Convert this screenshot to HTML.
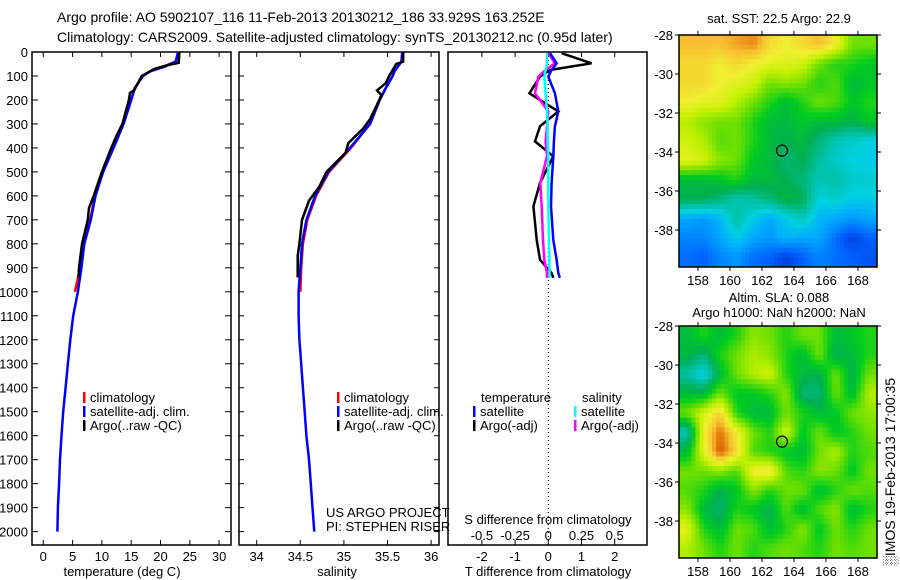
<!DOCTYPE html>
<html><head><meta charset="utf-8">
<style>
html,body{margin:0;padding:0;background:#fff;}
svg{display:block;font-family:"Liberation Sans",sans-serif;}
text{fill:#000;}
</style></head>
<body>
<svg id="fig" width="900" height="580" viewBox="0 0 900 580" xmlns="http://www.w3.org/2000/svg">
<text x="57" y="22" font-size="14">Argo profile: AO 5902107_116 11-Feb-2013 20130212_186 33.929S 163.252E</text>
<text x="57" y="42" font-size="14">Climatology: CARS2009. Satellite-adjusted climatology: synTS_20130212.nc (0.95d later)</text>
<g id="g"></g>
</svg>
<script>
// ---------- data ----------
const climDepth = [0,40,60,80,100,150,200,300,400,500,600,700,800,900,1000];
const climTemp  = [23,22.6,20.6,18.2,17,15.6,15.0,13.6,11.9,10.2,8.8,8.0,6.9,6.3,5.4];
const satDepth  = [0,40,60,80,100,150,200,300,400,500,600,700,800,900,1000,1100,1200,1300,1400,1500,1600,1700,1800,1900,2000];
const satTemp   = [23,22.6,20.8,18.3,17,15.6,15.0,13.7,12.0,10.2,8.9,8.1,7.0,6.5,5.9,5.1,4.6,4.2,3.8,3.4,3.1,2.85,2.7,2.5,2.4];
const argoDepth = [0,45,55,70,100,160,170,200,300,350,400,500,600,650,700,800,900,940];
const argoTemp  = [23.2,23.1,21.2,19,16.8,15.5,14.8,14.6,13.5,12.5,11.6,10,8.6,7.8,7.6,6.6,6.1,6.0];
const climSal   = [35.67,35.66,35.62,35.58,35.56,35.48,35.41,35.3,35.08,34.83,34.68,34.58,34.53,34.51,34.5];
const satSal    = [35.67,35.66,35.62,35.58,35.56,35.48,35.41,35.3,35.07,34.82,34.67,34.57,34.52,34.5,34.48,34.48,34.49,34.51,34.53,34.55,34.57,34.6,34.62,34.64,34.66];
const argoSalDepth = [0,40,50,100,130,160,180,220,280,320,380,420,500,560,620,700,800,850,940];
const argoSal   = [35.68,35.68,35.6,35.52,35.48,35.38,35.43,35.38,35.3,35.22,35.05,35.02,34.8,34.72,34.6,34.52,34.49,34.47,34.47];
const dDepth    = [5,47,75,103,172,248,310,373,435,546,644,783,866,922,942];
const dTargo    = [0.4,1.3,0.05,-0.25,-0.57,0.3,-0.25,-0.4,0.15,-0.25,-0.45,-0.35,-0.25,0.1,0.15];
const dTsat     = [0.05,0.25,0.1,0,0.2,0.3,0.2,0.17,0.15,0.1,0.08,0.15,0.25,0.3,0.35];
const dSargo    = [0.0,0.05,-0.02,-0.075,-0.1,0,-0.01,-0.02,-0.01,-0.06,-0.05,-0.04,-0.03,-0.01,-0.01];
const dSsat     = [-0.01,-0.01,-0.02,-0.03,-0.02,-0.01,-0.005,-0.005,0,0,0,0.005,0.008,0.01,0.01];
const depthTicks = [0,100,200,300,400,500,600,700,800,900,1000,1100,1200,1300,1400,1500,1600,1700,1800,1900,2000];
const tempTicks = [0,5,10,15,20,25,30];
const salTicks = [34,34.5,35,35.5,36];
const salTickLabels = ["34","34.5","35","35.5","36"];
const dTTicks = [-2,-1,0,1,2];
const dSTicks = [-0.5,-0.25,0,0.25,0.5];
const dSTickLabels = ["-0.5","-0.25","0","0.25","0.5"];
const latTicks = [-28,-30,-32,-34,-36,-38];
const lonTicks = [158,160,162,164,166,168];
const sstGrid = [
[.78,.78,.78,.8,.82,.75,.72,.75,.78,.72,.6,.6],
[.75,.75,.72,.75,.72,.7,.7,.68,.6,.55,.55,.52],
[.75,.75,.72,.7,.68,.6,.62,.6,.55,.58,.5,.52],
[.72,.7,.7,.65,.6,.55,.5,.55,.6,.58,.52,.55],
[.65,.62,.6,.6,.55,.5,.5,.52,.5,.5,.48,.52],
[.68,.65,.58,.6,.55,.5,.48,.5,.45,.4,.38,.36],
[.7,.68,.62,.6,.52,.5,.45,.48,.42,.38,.36,.35],
[.5,.5,.52,.55,.5,.5,.48,.45,.4,.42,.38,.38],
[.48,.48,.45,.4,.42,.45,.5,.48,.36,.38,.35,.35],
[.3,.28,.32,.42,.35,.3,.35,.4,.32,.3,.28,.3],
[.25,.25,.3,.35,.3,.28,.32,.3,.3,.22,.15,.2],
[.22,.2,.25,.28,.22,.2,.15,.2,.25,.22,.2,.18]];
const slaGrid = [
[.5,.55,.5,.55,.62,.6,.55,.6,.6,.5,.52,.55],
[.5,.45,.55,.6,.65,.62,.55,.5,.6,.48,.5,.55],
[.42,.35,.5,.6,.65,.68,.55,.5,.48,.6,.48,.6],
[.5,.5,.6,.52,.52,.55,.62,.45,.45,.6,.5,.65],
[.6,.68,.76,.55,.5,.5,.6,.55,.5,.52,.6,.62],
[.4,.72,.84,.72,.6,.55,.68,.52,.6,.52,.55,.6],
[.5,.7,.86,.75,.58,.55,.52,.5,.6,.65,.55,.58],
[.6,.6,.62,.58,.72,.74,.58,.55,.62,.6,.52,.6],
[.58,.55,.48,.52,.62,.55,.6,.6,.5,.55,.6,.58],
[.62,.5,.45,.55,.52,.48,.58,.5,.58,.62,.5,.55],
[.7,.55,.5,.6,.58,.5,.55,.62,.52,.6,.55,.6],
[.65,.6,.55,.6,.55,.58,.6,.58,.55,.6,.58,.6]];
const argoLon = 163.25, argoLat = -33.93;

// ---------- helpers ----------
const NS="http://www.w3.org/2000/svg";
const G=document.getElementById('g');
function mk(tag,attrs,parent){const e=document.createElementNS(NS,tag);for(const k in attrs)e.setAttribute(k,attrs[k]);(parent||G).appendChild(e);return e;}
function txt(x,y,s,size,anchor,parent){const t=mk('text',{x:x,y:y,'font-size':size||13,'text-anchor':anchor||'start'},parent);t.textContent=s;return t;}
const TOP=52,BOT=545;
const yD=d=>TOP+d*0.2398;
const xT=t=>43.3+5.86*t;
const xS=s=>256.7+87.2*(s-34);
const xDT=v=>548.3+33.2*v;
const xDS=v=>548.3+132.8*v;
function line(xs,ys,fx,color,w,name){
  const p=xs.map((v,i)=>fx(v).toFixed(1)+','+yD(ys[i]).toFixed(1)).join(' ');
  const e=mk('polyline',{points:p,fill:'none',stroke:color,'stroke-width':w||2.5});
  
  
}
function panel(x0,x1,name){
  const r=mk('rect',{x:x0,y:TOP,width:x1-x0,height:BOT-TOP,fill:'none',stroke:'#000','stroke-width':1.5});
  
  
}

// ---------- panel 1: temperature ----------
panel(32,231,'temperature-panel');
depthTicks.forEach(d=>{
  mk('line',{x1:32,x2:38,y1:yD(d),y2:yD(d),stroke:'#000'});
  mk('line',{x1:225,x2:231,y1:yD(d),y2:yD(d),stroke:'#000'});
  const t=txt(28,yD(d)+5,String(d),13,'end');
  
  
});
tempTicks.forEach(v=>{
  mk('line',{x1:xT(v),x2:xT(v),y1:TOP,y2:TOP+5,stroke:'#000'});
  mk('line',{x1:xT(v),x2:xT(v),y1:BOT,y2:BOT-5,stroke:'#000'});
  const t=txt(xT(v),561,String(v),13,'middle');
  
  
});
txt(122,576,'temperature (deg C)',13,'middle');
line(climTemp,climDepth,xT,'#f00',2.5,'clim-temp-line');
line(satTemp,satDepth,xT,'#00f',2.5,'sat-temp-line');
line(argoTemp,argoDepth,xT,'#000',2.5,'argo-temp-line');

// ---------- panel 2: salinity ----------
panel(239,439,'salinity-panel');
depthTicks.forEach(d=>{
  mk('line',{x1:239,x2:244,y1:yD(d),y2:yD(d),stroke:'#000'});
  mk('line',{x1:434,x2:439,y1:yD(d),y2:yD(d),stroke:'#000'});
});
salTicks.forEach((v,i)=>{
  mk('line',{x1:xS(v),x2:xS(v),y1:TOP,y2:TOP+5,stroke:'#000'});
  mk('line',{x1:xS(v),x2:xS(v),y1:BOT,y2:BOT-5,stroke:'#000'});
  const t=txt(xS(v),561,salTickLabels[i],13,'middle');
  
  
});
txt(337,576,'salinity',13,'middle');
line(climSal,climDepth,xS,'#f00',2.5,'clim-sal-line');
line(satSal,satDepth,xS,'#00f',2.5,'sat-sal-line');
line(argoSal,argoSalDepth,xS,'#000',2.5,'argo-sal-line');
txt(326,517,'US ARGO PROJECT',13);
txt(326,531,'PI: STEPHEN RISER',13);

// legends
function legend(x,y,color,label,name){
  mk('rect',{x:x,y:y-10,width:2.5,height:11,fill:color});
  const t=txt(x+7,y,label,13);
  
  
}
legend(83,402,'#f00','climatology','legend-climatology');
legend(83,416,'#00f','satellite-adj. clim.','legend-satellite-adj');
legend(83,430,'#000','Argo(..raw -QC)','legend-argo');
legend(337,402,'#f00','climatology','legend-climatology-2');
legend(337,416,'#00f','satellite-adj. clim.','legend-satellite-adj-2');
legend(337,430,'#000','Argo(..raw -QC)','legend-argo-2');

// ---------- panel 3: differences ----------
panel(448,647,'difference-panel');
mk('line',{x1:548.3,x2:548.3,y1:TOP,y2:BOT,stroke:'#000','stroke-width':1.2,'stroke-dasharray':'1,3'});
dTTicks.forEach(v=>{
  mk('line',{x1:xDT(v),x2:xDT(v),y1:TOP,y2:TOP+5,stroke:'#000'});
  mk('line',{x1:xDT(v),x2:xDT(v),y1:BOT,y2:BOT-5,stroke:'#000'});
  const t=txt(xDT(v),561,String(v),13,'middle');
  
  
});
dSTicks.forEach((v,i)=>{
  const t=txt(xDS(v),540,dSTickLabels[i],13,'middle');
  
  
});
txt(548,524,'S difference from climatology',13,'middle');
txt(548,576,'T difference from climatology',13,'middle');
line(dTargo,dDepth,xDT,'#000',2.5,'argo-dT-line');
line(dSargo,dDepth,xDS,'#f0f',2.5,'argo-dS-line');
line(dTsat,dDepth,xDT,'#00f',2.5,'sat-dT-line');
line(dSsat,dDepth,xDS,'#0ff',2.5,'sat-dS-line');
txt(481,402,'temperature',13);
txt(582,402,'salinity',13);
legend(473,416,'#00f','satellite','legend-t-satellite');
legend(473,430,'#000','Argo(-adj)','legend-t-argo');
legend(574,416,'#0ff','satellite','legend-s-satellite');
legend(574,430,'#f0f','Argo(-adj)','legend-s-argo');

// ---------- maps ----------
const stops=[[0.1,[0,32,192]],[0.2,[0,96,255]],[0.3,[0,168,255]],[0.36,[0,208,224]],[0.42,[0,192,160]],[0.48,[0,176,80]],[0.53,[0,204,32]],[0.6,[112,224,0]],[0.66,[192,240,0]],[0.72,[240,240,48]],[0.78,[248,192,48]],[0.84,[224,112,0]],[0.9,[192,48,0]]];
function cmap(v){
  if(v<=stops[0][0])return 'rgb('+stops[0][1]+')';
  for(let i=1;i<stops.length;i++){if(v<=stops[i][0]){const a=stops[i-1],b=stops[i],f=(v-a[0])/(b[0]-a[0]);return 'rgb('+a[1].map((c,j)=>Math.round(c+(b[1][j]-c)*f)).join(',')+')';}}
  return 'rgb('+stops[stops.length-1][1]+')';
}
function sample(grid,fr,fc){
  const nr=grid.length,nc=grid[0].length;
  fr=Math.max(0,Math.min(nr-1,fr));fc=Math.max(0,Math.min(nc-1,fc));
  const r0=Math.floor(fr),c0=Math.floor(fc),r1=Math.min(nr-1,r0+1),c1=Math.min(nc-1,c0+1);
  const a=fr-r0,b=fc-c0;
  return grid[r0][c0]*(1-a)*(1-b)+grid[r0][c1]*(1-a)*b+grid[r1][c0]*a*(1-b)+grid[r1][c1]*a*b;
}
function map(grid,top,name){
  const x0=679,x1=877,bottom=top+232;
  const lonX=l=>698+(l-158)*16;
  const latY=l=>top+(-28-l)*19.5;
  const g=mk('g',{});
  
  
  const nr=grid.length,nc=grid[0].length,S=4;
  const R=nr*S,C=nc*S,cw=(x1-x0)/C,ch=(bottom-top)/R;
  for(let r=0;r<R;r++)for(let c=0;c<C;c++){
    const v=sample(grid,(r+0.5)/S-0.5,(c+0.5)/S-0.5);
    const cell=mk('rect',{x:(x0+c*cw).toFixed(2),y:(top+r*ch).toFixed(2),width:(cw+0.5).toFixed(2),height:(ch+0.5).toFixed(2),fill:cmap(v)},g);
    
    
  }
  mk('rect',{x:x0,y:top,width:x1-x0,height:bottom-top,fill:'none',stroke:'#000','stroke-width':1.5},g);
  latTicks.forEach(l=>{
    mk('line',{x1:x0-4,x2:x0,y1:latY(l),y2:latY(l),stroke:'#000'},g);
    mk('line',{x1:x1,x2:x1+4,y1:latY(l),y2:latY(l),stroke:'#000'},g);
    txt(673,latY(l)+5,String(l),13,'end',g);
  });
  lonTicks.forEach(l=>{
    mk('line',{x1:lonX(l),x2:lonX(l),y1:top-4,y2:top,stroke:'#000'},g);
    mk('line',{x1:lonX(l),x2:lonX(l),y1:bottom,y2:bottom+4,stroke:'#000'},g);
    txt(lonX(l),bottom+18,String(l),13,'middle',g);
  });
  const c=mk('circle',{cx:lonX(argoLon),cy:latY(argoLat),r:5.5,fill:'none',stroke:'#000','stroke-width':1.2},g);
  
  
}
map(sstGrid,35,'sst-map');
map(slaGrid,326,'sla-map');
txt(779,23,'sat. SST: 22.5 Argo: 22.9',13,'middle');
txt(779,302,'Altim. SLA: 0.088',13,'middle');
txt(779,317,'Argo h1000: NaN h2000: NaN',13,'middle');
const st=txt(0,0,'\u2591IMOS 19-Feb-2013 17:00:35',14,'middle');
st.setAttribute('transform','translate(895,472) rotate(-90)');


</script>
</body></html>
